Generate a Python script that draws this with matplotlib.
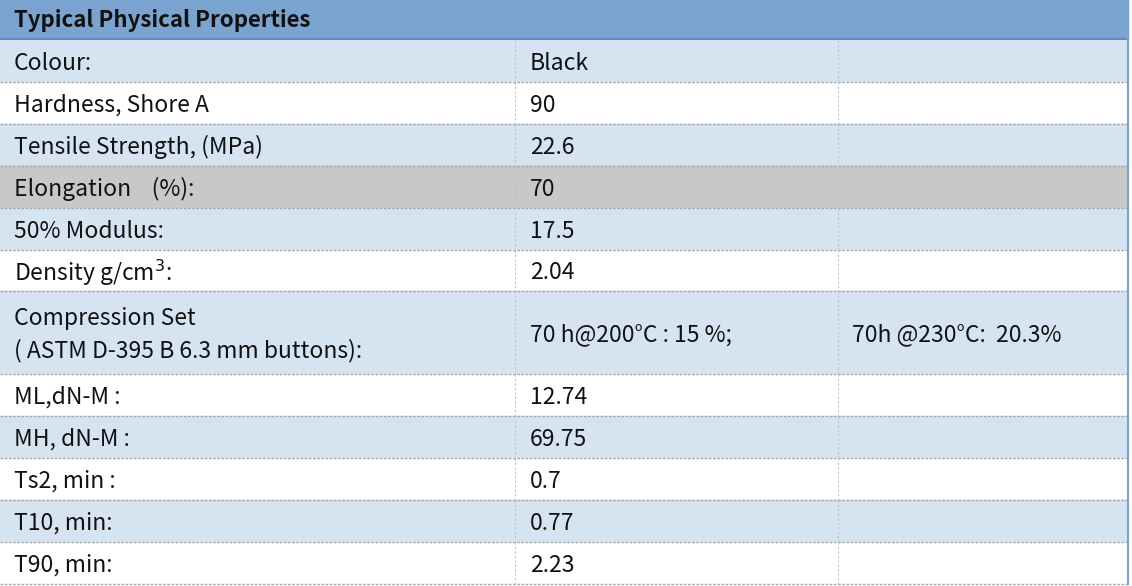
import matplotlib.pyplot as plt
from matplotlib.patches import Rectangle

plt.rcParams['font.family'] = ['Noto Sans CJK SC', 'DejaVu Sans']

title = "Typical Physical Properties"
props = ["Colour:", "Hardness, Shore A", "Tensile Strength, (MPa)", "Elongation    (%):",
         "50% Modulus:", "Density g/cm$^3$:", "Compression Set\n( ASTM D-395 B 6.3 mm buttons):",
         "ML,dN-M :", "MH, dN-M :", "Ts2, min :", "T10, min:", "T90, min:"]
values = ["Black", "90", "22.6", "70", "17.5", "2.04", "70 h@200°C : 15 %;",
          "12.74", "69.75", "0.7", "0.77", "2.23"]
extra = ["", "", "", "", "", "", "70h @230°C:  20.3%", "", "", "", "", ""]
row_h = [42, 42, 42, 42, 42, 41, 83, 42, 42, 42, 42, 42]
fills = ["#d6e4f2", "white", "#d6e4f2", "#c8c8c8", "#d6e4f2", "white", "#d6e4f2",
         "white", "#d6e4f2", "white", "#d6e4f2", "white"]

W, H = 1132, 586
col_x = [0, 515, 838, 1128]

fig = plt.figure(figsize=(W / 100, H / 100), dpi=100)
ax = fig.add_axes([0, 0, 1, 1])
ax.set_xlim(0, W)
ax.set_ylim(H, 0)
ax.axis('off')

# header
ax.add_patch(Rectangle((0, 0), col_x[-1], 38, color="#7aa3d0"))
ax.plot([0, col_x[-1]], [39, 39], color="#5b8cc4", lw=1.5)
ax.text(14, 20, title, fontsize=16, fontweight='bold', va='center', color="#111111")

y = 40
for i, p in enumerate(props):
    h = row_h[i]
    ax.add_patch(Rectangle((0, y), col_x[-1], h, color=fills[i]))
    ax.plot([0, col_x[-1]], [y + h, y + h], color="#a8a8a8", lw=1, ls=(0, (2, 1)))
    for cx in col_x[1:3]:
        ax.plot([cx, cx], [y, y + h], color="#b8c4d0", lw=0.8, ls=(0, (2, 2)))
    ax.text(14, y + h / 2 + 2, p, fontsize=16.5, va='center', color="#111111", linespacing=1.45)
    ax.text(530, y + h / 2 + 2, values[i], fontsize=16.5, va='center', color="#111111")
    if extra[i]:
        ax.text(852, y + h / 2 + 2, extra[i], fontsize=16.5, va='center', color="#111111")
    y += h

ax.plot([col_x[-1], col_x[-1]], [0, y], color="#7aa3d0", lw=1.5)

fig.savefig("out.png", dpi=100)
